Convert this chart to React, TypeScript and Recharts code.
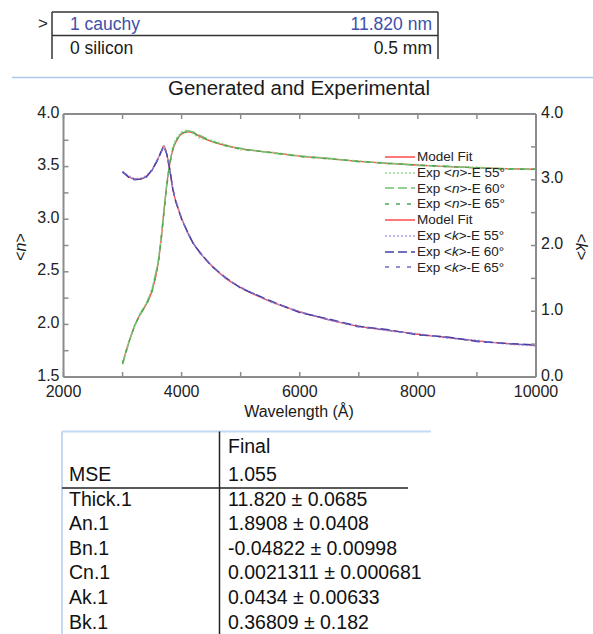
import React from 'react';
import { LineChart, Line, XAxis, YAxis, Legend } from 'recharts';

const FONT = '"Liberation Sans", Arial, Helvetica, sans-serif';
const AXIS = '#8c8c8c';

// ---- data ----
const wavelengths = [3000, 3100, 3200, 3300, 3400, 3500, 3600, 3650, 3700, 3750, 3800, 3850, 3900, 4000, 4100, 4200, 4300, 4500, 4750, 5000, 5500, 6000, 6500, 7000, 7500, 8000, 8500, 9000, 9500, 10000];

const nModel = [1.63, 1.82, 1.98, 2.10, 2.19, 2.32, 2.57, 2.79, 3.07, 3.33, 3.53, 3.66, 3.73, 3.81, 3.83, 3.82, 3.79, 3.74, 3.70, 3.67, 3.635, 3.60, 3.575, 3.55, 3.53, 3.515, 3.50, 3.49, 3.48, 3.475];
const nExp55 = [1.64, 1.83, 1.97, 2.11, 2.20, 2.34, 2.59, 2.81, 3.09, 3.35, 3.55, 3.68, 3.76, 3.83, 3.85, 3.81, 3.77, 3.75, 3.71, 3.66, 3.64, 3.605, 3.57, 3.555, 3.525, 3.52, 3.495, 3.495, 3.48, 3.47];
const nExp60 = [1.62, 1.81, 1.99, 2.09, 2.19, 2.33, 2.58, 2.80, 3.08, 3.34, 3.54, 3.67, 3.75, 3.82, 3.84, 3.83, 3.80, 3.745, 3.695, 3.675, 3.63, 3.60, 3.58, 3.545, 3.535, 3.51, 3.505, 3.485, 3.48, 3.475];
const nExp65 = [1.63, 1.82, 1.98, 2.10, 2.18, 2.31, 2.56, 2.78, 3.06, 3.32, 3.52, 3.66, 3.74, 3.82, 3.83, 3.82, 3.79, 3.74, 3.70, 3.665, 3.635, 3.595, 3.575, 3.55, 3.53, 3.515, 3.50, 3.49, 3.475, 3.475];

const kModel = [3.12, 3.05, 3.01, 3.01, 3.05, 3.15, 3.32, 3.42, 3.52, 3.38, 3.15, 2.86, 2.68, 2.41, 2.20, 2.03, 1.90, 1.70, 1.50, 1.36, 1.15, 0.99, 0.87, 0.77, 0.71, 0.65, 0.60, 0.55, 0.51, 0.48];
const kExp55 = [3.13, 3.06, 3.02, 3.02, 3.06, 3.16, 3.33, 3.43, 3.53, 3.37, 3.14, 2.87, 2.69, 2.42, 2.19, 2.04, 1.89, 1.71, 1.49, 1.37, 1.14, 1.00, 0.86, 0.78, 0.70, 0.66, 0.59, 0.56, 0.50, 0.47];
const kExp60 = [3.12, 3.04, 3.00, 3.01, 3.04, 3.15, 3.31, 3.42, 3.51, 3.39, 3.16, 2.86, 2.67, 2.40, 2.21, 2.02, 1.91, 1.69, 1.51, 1.35, 1.16, 0.98, 0.88, 0.77, 0.72, 0.64, 0.61, 0.54, 0.51, 0.49];
const kExp65 = [3.11, 3.05, 3.01, 3.00, 3.05, 3.14, 3.32, 3.41, 3.52, 3.38, 3.15, 2.85, 2.68, 2.41, 2.20, 2.03, 1.90, 1.70, 1.50, 1.36, 1.15, 0.99, 0.87, 0.76, 0.71, 0.65, 0.60, 0.55, 0.51, 0.48];

const xTicks = [2000, 3000, 4000, 5000, 6000, 7000, 8000, 9000, 10000];
const nTicks = [1.5, 1.75, 2.0, 2.25, 2.5, 2.75, 3.0, 3.25, 3.5, 3.75, 4.0];
const kTicks = [0, 0.5, 1.0, 1.5, 2.0, 2.5, 3.0, 3.5, 4.0];

const layers = [
  { name: '1 cauchy', value: '11.820 nm' },
  { name: '0 silicon', value: '0.5 mm' },
];

const fitHeader = 'Final';
const fitRows = [
  { name: 'MSE', value: '1.055' },
  { name: 'Thick.1', value: '11.820 ± 0.0685' },
  { name: 'An.1', value: '1.8908 ± 0.0408' },
  { name: 'Bn.1', value: '-0.04822 ± 0.00998' },
  { name: 'Cn.1', value: '0.0021311 ± 0.000681' },
  { name: 'Ak.1', value: '0.0434 ± 0.00633' },
  { name: 'Bk.1', value: '0.36809 ± 0.182' },
];

type Series = { key: string; label: string[]; axis: 'n' | 'k'; color: string; dash?: string; width: number; curve: 'monotone' | 'linear' };

const SERIES: Series[] = [
  { key: 'nModel', label: ['Model Fit'], axis: 'n', color: '#ff3d3d', width: 1.3, curve: 'monotone' },
  { key: 'nExp55', label: ['Exp <', 'n', '>-E 55°'], axis: 'n', color: '#92d692', dash: '2 2', width: 1.4, curve: 'linear' },
  { key: 'nExp60', label: ['Exp <', 'n', '>-E 60°'], axis: 'n', color: '#72c272', dash: '9 4', width: 1.4, curve: 'linear' },
  { key: 'nExp65', label: ['Exp <', 'n', '>-E 65°'], axis: 'n', color: '#4fa84f', dash: '4 7', width: 1.4, curve: 'linear' },
  { key: 'kModel', label: ['Model Fit'], axis: 'k', color: '#ff3d3d', width: 1.3, curve: 'monotone' },
  { key: 'kExp55', label: ['Exp <', 'k', '>-E 55°'], axis: 'k', color: '#aaa2e2', dash: '2 2', width: 1.4, curve: 'linear' },
  { key: 'kExp60', label: ['Exp <', 'k', '>-E 60°'], axis: 'k', color: '#4040a8', dash: '9 4', width: 1.4, curve: 'linear' },
  { key: 'kExp65', label: ['Exp <', 'k', '>-E 65°'], axis: 'k', color: '#6c6cc8', dash: '4 7', width: 1.4, curve: 'linear' },
];

const data = wavelengths.map((w, i) => ({
  w,
  nModel: nModel[i], nExp55: nExp55[i], nExp60: nExp60[i], nExp65: nExp65[i],
  kModel: kModel[i], kExp55: kExp55[i], kExp60: kExp60[i], kExp65: kExp65[i],
}));

const isMult = (v: number, m: number) => Math.abs(v / m - Math.round(v / m)) < 1e-6;

const BottomTick = (p: any) => {
  const v = p.payload.value;
  return (
    <g>
      <line x1={p.x} x2={p.x} y1={p.y} y2={p.y - 5} stroke={AXIS} strokeWidth={1.5} />
      {isMult(v, 2000) && (
        <text x={p.x} y={p.y + 20} textAnchor="middle" fontSize={16} fontFamily={FONT} fill="#222">{v}</text>
      )}
    </g>
  );
};
const TopTick = (p: any) => (
  <line x1={p.x} x2={p.x} y1={p.y} y2={p.y + 5} stroke={AXIS} strokeWidth={1.5} />
);
const LeftTick = (p: any) => {
  const v = p.payload.value;
  return (
    <g>
      <line x1={p.x} x2={p.x + 5} y1={p.y} y2={p.y} stroke={AXIS} strokeWidth={1.5} />
      {isMult(v, 0.5) && (
        <text x={p.x - 4} y={p.y + 3.5} textAnchor="end" fontSize={16} fontFamily={FONT} fill="#222">{v.toFixed(1)}</text>
      )}
    </g>
  );
};
const RightTick = (p: any) => {
  const v = p.payload.value;
  return (
    <g>
      <line x1={p.x} x2={p.x - 5} y1={p.y} y2={p.y} stroke={AXIS} strokeWidth={1.5} />
      {isMult(v, 1) && (
        <text x={p.x + 5} y={p.y + 3.5} textAnchor="start" fontSize={16} fontFamily={FONT} fill="#222">{v.toFixed(1)}</text>
      )}
    </g>
  );
};

const LegendBox = () => (
  <div style={{ fontFamily: FONT, fontSize: 13.5, color: '#222', lineHeight: '15.8px' }}>
    {SERIES.map((s) => (
      <div key={s.key} style={{ display: 'flex', alignItems: 'center', height: 15.8, whiteSpace: 'nowrap' }}>
        <svg width={33} height={6} style={{ display: 'block' }}>
          <line x1={1} x2={31} y1={3} y2={3} stroke={s.color} strokeWidth={1.4} strokeDasharray={s.dash} />
        </svg>
        <span>
          {s.label.map((t, j) => (j === 1 ? <i key={j}>{t}</i> : <span key={j}>{t}</span>))}
        </span>
      </div>
    ))}
  </div>
);

export default function App() {
  return (
    <div style={{ position: 'absolute', left: 0, top: 0, width: 593, height: 634, background: '#fff', overflow: 'hidden' }}>
      <LineChart
        width={593}
        height={634}
        data={data}
        margin={{ top: 104, right: 0, bottom: 227, left: 0 }}
      >
        <XAxis
          xAxisId="b"
          dataKey="w"
          type="number"
          domain={[2000, 10000]}
          ticks={xTicks}
          interval={0}
          allowDataOverflow
          height={30}
          tickSize={0}
          tickMargin={0}
          tick={BottomTick}
          axisLine={{ stroke: AXIS, strokeWidth: 2 }}
          tickLine={false}
        />
        <XAxis
          xAxisId="t"
          orientation="top"
          dataKey="w"
          type="number"
          domain={[2000, 10000]}
          ticks={xTicks}
          interval={0}
          allowDataOverflow
          height={10}
          tickSize={0}
          tickMargin={0}
          tick={TopTick}
          axisLine={{ stroke: AXIS, strokeWidth: 2 }}
          tickLine={false}
        />
        <YAxis
          yAxisId="n"
          orientation="left"
          type="number"
          domain={[1.5, 4]}
          ticks={nTicks}
          interval={0}
          allowDataOverflow
          width={63.5}
          tickSize={0}
          tickMargin={0}
          tick={LeftTick}
          axisLine={{ stroke: AXIS, strokeWidth: 2 }}
          tickLine={false}
        />
        <YAxis
          yAxisId="k"
          orientation="right"
          type="number"
          domain={[0, 4]}
          ticks={kTicks}
          interval={0}
          allowDataOverflow
          width={57}
          tickSize={0}
          tickMargin={0}
          tick={RightTick}
          axisLine={{ stroke: AXIS, strokeWidth: 2 }}
          tickLine={false}
        />
        {SERIES.map((s) => (
          <Line
            key={s.key}
            xAxisId="b"
            yAxisId={s.axis}
            dataKey={s.key}
            type={s.curve}
            stroke={s.color}
            strokeWidth={s.width}
            strokeDasharray={s.dash}
            dot={false}
            activeDot={false}
            isAnimationActive={false}
          />
        ))}
        <Legend
          layout="horizontal"
          verticalAlign="middle"
          align="center"
          content={<LegendBox />}
          wrapperStyle={{ left: 384, top: 149, width: 152, height: 130 }}
        />
      </LineChart>

      <svg width={593} height={634} style={{ position: 'absolute', left: 0, top: 0, pointerEvents: 'none' }} fontFamily={FONT}>
        {/* layer table */}
        <text x={38} y={29} fontSize={17} fill="#222">&gt;</text>
        <line x1={52} x2={438} y1={12} y2={12} stroke="#333" strokeWidth={1.5} />
        <line x1={52} x2={438} y1={35.5} y2={35.5} stroke="#333" strokeWidth={1.5} />
        <line x1={52} x2={52} y1={12} y2={59} stroke="#333" strokeWidth={1.5} />
        <line x1={438} x2={438} y1={12} y2={59} stroke="#333" strokeWidth={1.5} />
        {layers.map((l, i) => (
          <g key={l.name}>
            <text x={70} y={29.5 + i * 24} fontSize={17.5} fill={i === 0 ? '#4050a8' : '#1a1a1a'}>{l.name}</text>
            <text x={432} y={29.5 + i * 24} fontSize={17.5} textAnchor="end" fill={i === 0 ? '#4050a8' : '#1a1a1a'}>{l.value}</text>
          </g>
        ))}
        <line x1={12} x2={593} y1={77.5} y2={77.5} stroke="#a9c9ec" strokeWidth={1.5} />

        {/* chart titles */}
        <text x={299} y={95} fontSize={20.5} textAnchor="middle" fill="#1a1a1a">Generated and Experimental</text>
        <text x={299} y={417} fontSize={16} textAnchor="middle" fill="#1a1a1a">Wavelength (Å)</text>
        <text x={0} y={0} fontSize={16} textAnchor="middle" fill="#1a1a1a" transform="translate(26,247) rotate(-90)">
          &lt;<tspan fontStyle="italic">n</tspan>&gt;
        </text>
        <text x={0} y={0} fontSize={16} textAnchor="middle" fill="#1a1a1a" transform="translate(576,247) rotate(90)">
          &lt;<tspan fontStyle="italic">k</tspan>&gt;
        </text>

        {/* fit results table */}
        <line x1={62} x2={431} y1={431.5} y2={431.5} stroke="#c3d9f2" strokeWidth={2} />
        <line x1={62} x2={62} y1={431.5} y2={634} stroke="#c3d9f2" strokeWidth={2} />
        <line x1={219.5} x2={219.5} y1={431.5} y2={634} stroke="#222" strokeWidth={1.5} />
        <line x1={62} x2={408} y1={488} y2={488} stroke="#222" strokeWidth={1.5} />
        <text x={228} y={453} fontSize={19.5} fill="#111">{fitHeader}</text>
        {fitRows.map((r, i) => {
          const y = i === 0 ? 481 : 481 + i * 24.6;
          return (
            <g key={r.name}>
              <text x={69} y={y} fontSize={19.5} fill="#111">{r.name}</text>
              <text x={228} y={y} fontSize={19.5} fill="#111">{r.value}</text>
            </g>
          );
        })}
      </svg>
    </div>
  );
}
